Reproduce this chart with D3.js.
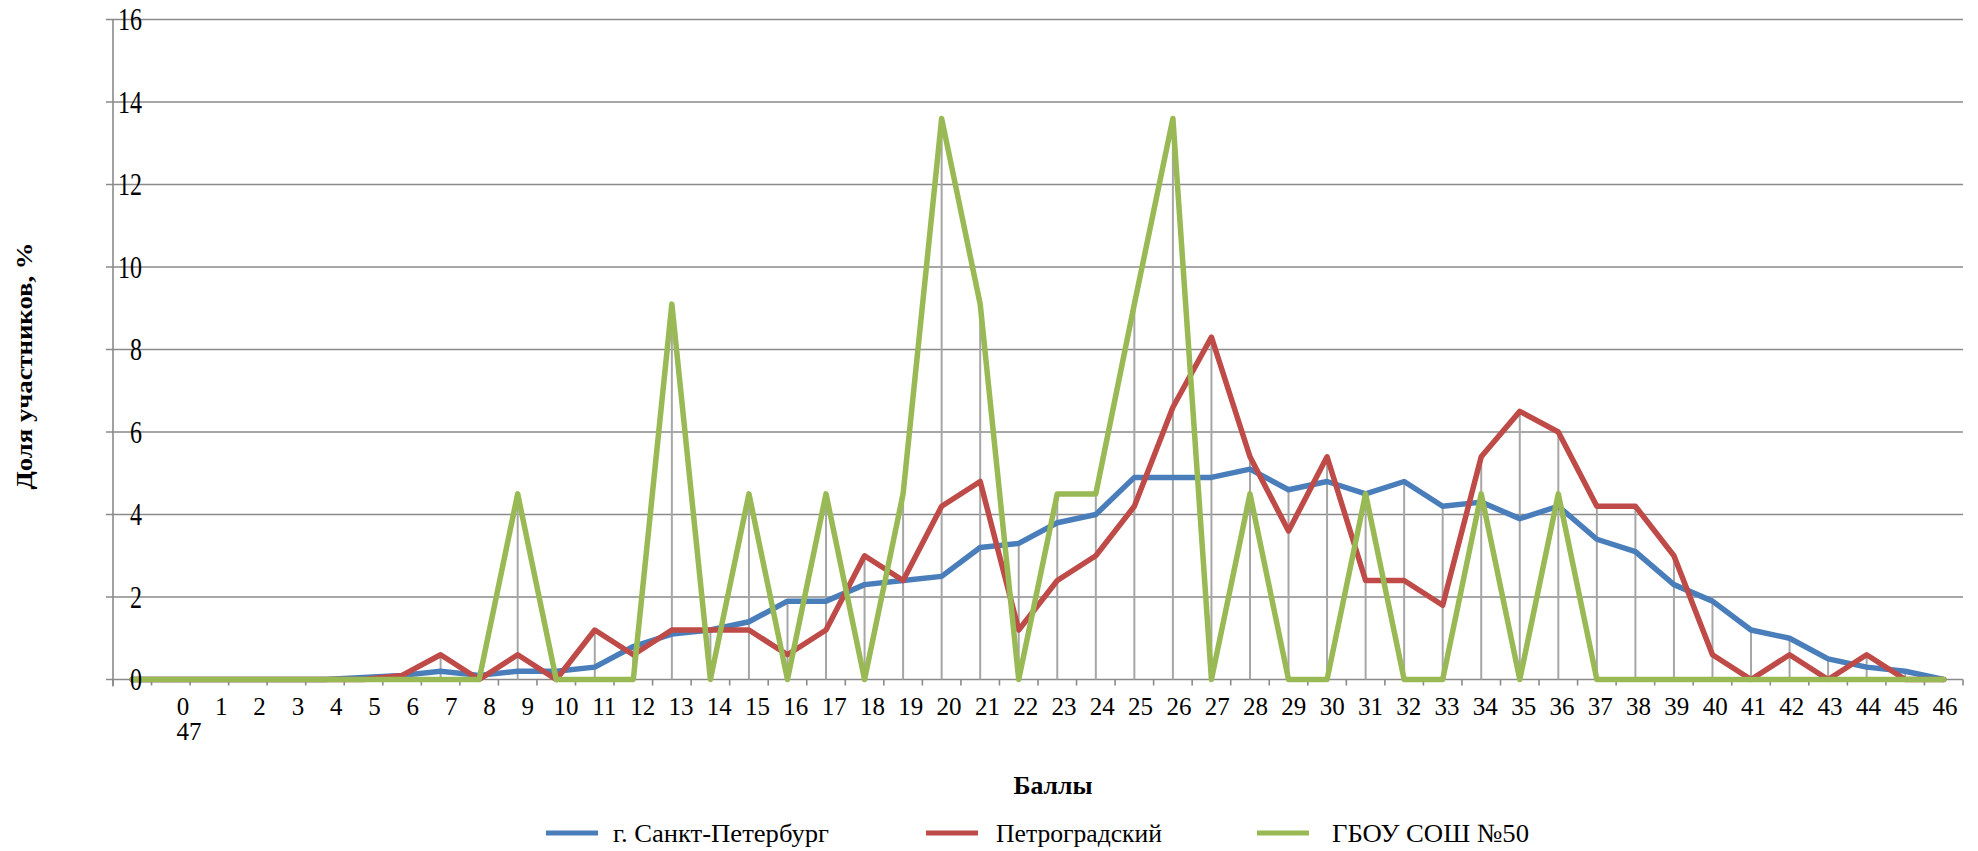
<!DOCTYPE html>
<html><head><meta charset="utf-8">
<script src="https://cdn.jsdelivr.net/npm/d3@7"></script>
<style>
body{margin:0;background:#fff;}
svg{display:block;}
svg text{font-family:"Liberation Serif","Times New Roman","DejaVu Serif",serif;fill:#000;}
</style>
</head><body>
<svg id="c" width="1978" height="851" font-family="Liberation Serif, serif"></svg>
<script>
// ---- data ----
const categories = ["", "0","1","2","3","4","5","6","7","8","9","10","11","12","13","14","15","16","17","18","19","20","21","22","23","24","25","26","27","28","29","30","31","32","33","34","35","36","37","38","39","40","41","42","43","44","45","46"];
const tickLabels = ["0","1","2","3","4","5","6","7","8","9","10","11","12","13","14","15","16","17","18","19","20","21","22","23","24","25","26","27","28","29","30","31","32","33","34","35","36","37","38","39","40","41","42","43","44","45","46"];
const extraLabel = "47";
const spb    = [0, 0,0,0,0,0,0.05,0.1,0.2,0.1,0.2,0.2,0.3,0.8,1.1,1.2,1.4,1.9,1.9,2.3,2.4,2.5,3.2,3.3,3.8,4.0,4.9,4.9,4.9,5.1,4.6,4.8,4.5,4.8,4.2,4.3,3.9,4.2,3.4,3.1,2.3,1.9,1.2,1.0,0.5,0.3,0.2,0];
const petro  = [0, 0,0,0,0,0,0,0.1,0.6,0,0.6,0,1.2,0.6,1.2,1.2,1.2,0.6,1.2,3.0,2.4,4.2,4.8,1.2,2.4,3.0,4.2,6.6,8.3,5.4,3.6,5.4,2.4,2.4,1.8,5.4,6.5,6.0,4.2,4.2,3.0,0.6,0,0.6,0,0.6,0,0];
const school = [0, 0,0,0,0,0,0,0,0,0,4.5,0,0,0,9.1,0,4.5,0,4.5,0,4.5,13.6,9.1,0,4.5,4.5,9.1,13.6,0,4.5,0,0,4.5,0,0,4.5,0,4.5,0,0,0,0,0,0,0,0,0,0];
const seriesNames = ["г. Санкт-Петербург", "Петроградский", "ГБОУ СОШ №50"];
const seriesColors = ["#4A7EBB", "#BE4B48", "#98B954"];
const yTicks = [0,2,4,6,8,10,12,14,16];
const yTitle = "Доля участников, %";
const xTitle = "Баллы";

// ---- chart ----
const svg = d3.select("#c");
const L = 113, R = 1963, T = 19.5, B = 679.5;
const x = d3.scaleBand().domain(categories).range([L, R]).padding(0);
const y = d3.scaleLinear().domain([0, 16]).range([B, T]);
const xl = d3.scalePoint().domain(tickLabels).range([183, 1945]);
const series = [spb, petro, school];

// gridlines
svg.append("g").selectAll("line").data(yTicks).join("line")
  .attr("x1", L - 7).attr("x2", R)
  .attr("y1", d => y(d)).attr("y2", d => y(d))
  .attr("stroke", "#8a8a8a").attr("stroke-width", 1.6);

// y axis line
svg.append("line").attr("x1", L).attr("x2", L).attr("y1", y(16)).attr("y2", B + 7)
  .attr("stroke", "#8a8a8a").attr("stroke-width", 1.6);

// x tick marks at band boundaries
const bounds = categories.map(c => x(c)).concat([R]);
svg.append("g").selectAll("line").data(bounds).join("line")
  .attr("x1", d => d).attr("x2", d => d)
  .attr("y1", B).attr("y2", B + 6)
  .attr("stroke", "#8a8a8a").attr("stroke-width", 1.6);

// drop lines
svg.append("g").selectAll("line").data(categories).join("line")
  .attr("x1", c => x(c) + x.bandwidth()/2).attr("x2", c => x(c) + x.bandwidth()/2)
  .attr("y1", (c, i) => y(d3.max(series, s => s[i]))).attr("y2", B)
  .attr("stroke", "#a6a6a6").attr("stroke-width", 2);

// lines
const line = d3.line().x((d, i) => x(categories[i]) + x.bandwidth()/2).y(d => y(d));
series.forEach((s, k) => {
  svg.append("path").datum(s).attr("d", line)
    .attr("fill", "none").attr("stroke", seriesColors[k])
    .attr("stroke-width", 5.5).attr("stroke-linejoin", "round").attr("stroke-linecap", "round");
});

// y tick labels
svg.append("g").selectAll("text").data(yTicks).join("text")
  .attr("transform", d => `translate(142,${y(d)}) scale(1,1.3)`)
  .attr("text-anchor", "end").attr("dominant-baseline", "central")
  .attr("font-size", 24).text(d => d);

// x tick labels
svg.append("g").selectAll("text").data(tickLabels).join("text")
  .attr("x", d => xl(d)).attr("y", 706)
  .attr("text-anchor", "middle").attr("dominant-baseline", "central")
  .attr("font-size", 25).text(d => d);
svg.append("text").attr("x", xl("0") + 6).attr("y", 731)
  .attr("text-anchor", "middle").attr("dominant-baseline", "central")
  .attr("font-size", 25).text(extraLabel);

// axis titles
svg.append("text").attr("transform", "translate(24,366) rotate(-90)")
  .attr("text-anchor", "middle").attr("dominant-baseline", "central")
  .attr("font-size", 23).attr("font-weight", "bold")
  .attr("textLength", 247).attr("lengthAdjust", "spacingAndGlyphs").text(yTitle);
svg.append("text").attr("x", 1053).attr("y", 785)
  .attr("text-anchor", "middle").attr("dominant-baseline", "central")
  .attr("font-size", 25).attr("font-weight", "bold")
  .attr("textLength", 79).attr("lengthAdjust", "spacingAndGlyphs").text(xTitle);

// legend
const legX = [546, 926, 1257];
const legW = [216, 166, 197];
seriesNames.forEach((n, k) => {
  const g = svg.append("g").attr("transform", `translate(${legX[k]},833)`);
  g.append("line").attr("x1", 0).attr("x2", 52).attr("y1", 0).attr("y2", 0)
    .attr("stroke", seriesColors[k]).attr("stroke-width", 5);
  g.append("text").attr("x", k === 0 ? 67 : (k === 1 ? 70 : 75)).attr("y", 0)
    .attr("dominant-baseline", "central").attr("font-size", 26)
    .attr("textLength", legW[k]).attr("lengthAdjust", "spacingAndGlyphs").text(n);
});
</script>
</body></html>
